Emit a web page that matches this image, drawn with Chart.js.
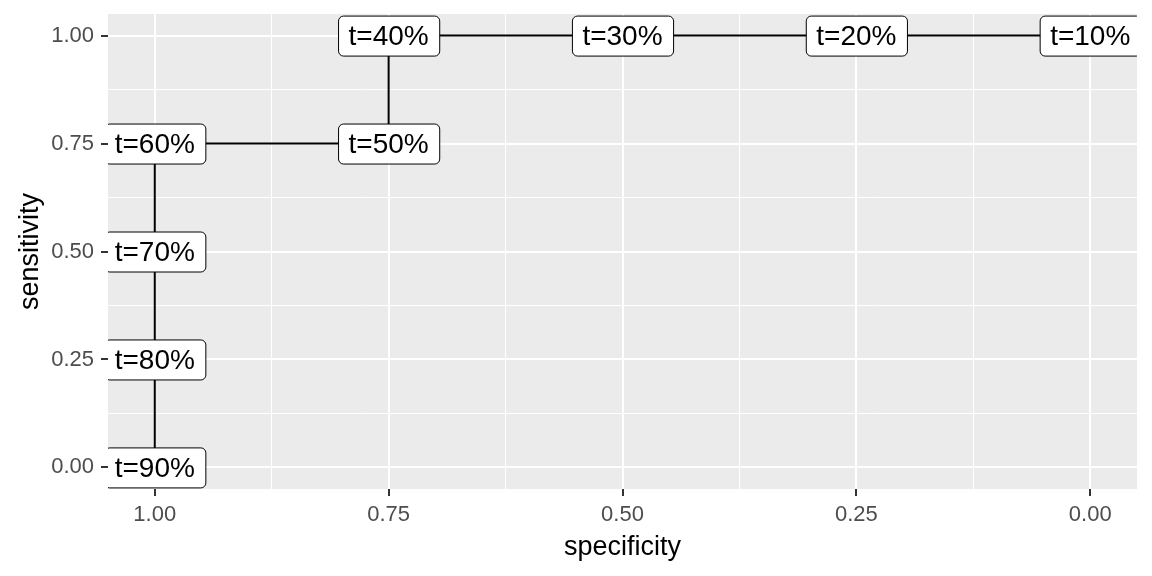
<!DOCTYPE html>
<html><head><meta charset="utf-8">
<script src="https://cdn.jsdelivr.net/npm/chart.js@4/dist/chart.umd.min.js"></script>
<style>html,body{margin:0;padding:0;background:#fff}</style>
</head><body>
<canvas id="c" width="1152" height="576"></canvas>
<script>
const specificity = [1, 1, 1, 1, 0.75, 0.75, 0.5, 0.25, 0];
const sensitivity = [0, 0.25, 0.5, 0.75, 0.75, 1, 1, 1, 1];
const thresholdLabels = ['t=90%', 't=80%', 't=70%', 't=60%', 't=50%', 't=40%', 't=30%', 't=20%', 't=10%'];
const majorTicks = [0, 0.25, 0.5, 0.75, 1];
const tickLabels = ['0.00', '0.25', '0.50', '0.75', '1.00'];
const gridValues = [0, 0.125, 0.25, 0.375, 0.5, 0.625, 0.75, 0.875, 1];

const FONT = "'Liberation Sans', Arial, sans-serif";
const isMajor = v => majorTicks.indexOf(v) >= 0;

const bgPlugin = {
  id: 'panelBg',
  beforeDraw(chart) {
    const {ctx, chartArea: a} = chart;
    ctx.save();
    ctx.fillStyle = '#EBEBEB';
    ctx.fillRect(a.left, a.top, a.right - a.left, a.bottom - a.top);
    ctx.restore();
  }
};

function roundRect(ctx, x, y, w, h, r) {
  ctx.beginPath();
  ctx.moveTo(x + r, y);
  ctx.lineTo(x + w - r, y);
  ctx.arcTo(x + w, y, x + w, y + r, r);
  ctx.lineTo(x + w, y + h - r);
  ctx.arcTo(x + w, y + h, x + w - r, y + h, r);
  ctx.lineTo(x + r, y + h);
  ctx.arcTo(x, y + h, x, y + h - r, r);
  ctx.lineTo(x, y + r);
  ctx.arcTo(x, y, x + r, y, r);
  ctx.closePath();
}

const labelPlugin = {
  id: 'pointLabels',
  afterDatasetsDraw(chart) {
    const {ctx, chartArea: a} = chart;
    const meta = chart.getDatasetMeta(0);
    ctx.save();
    ctx.beginPath();
    ctx.rect(a.left, a.top, a.right - a.left, a.bottom - a.top);
    ctx.clip();
    ctx.font = '28px ' + FONT;
    meta.data.forEach((pt, i) => {
      const txt = thresholdLabels[i];
      const tw = ctx.measureText(txt).width;
      const padX = 10.5;
      const w = tw + 2 * padX;
      const h = 40;
      const x = pt.x - w / 2;
      const y = pt.y - h / 2;
      roundRect(ctx, x + 0.5, y + 0.5, w, h, 5);
      ctx.fillStyle = '#FFFFFF';
      ctx.fill();
      ctx.lineWidth = 1;
      ctx.strokeStyle = '#000000';
      ctx.stroke();
      ctx.fillStyle = '#000000';
      ctx.textAlign = 'center';
      ctx.textBaseline = 'middle';
      ctx.fillText(txt, pt.x, pt.y + 2);
    });
    ctx.restore();
  }
};

const gridOpts = {
  color: '#FFFFFF',
  lineWidth: c => (c.tick && isMajor(c.tick.value)) ? 2 : 1,
  drawTicks: true,
  tickLength: 7,
  tickWidth: 2,
  tickColor: c => (c.tick && isMajor(c.tick.value)) ? '#333333' : 'rgba(0,0,0,0)'
};

const tickCb = v => { const i = majorTicks.indexOf(v); return i >= 0 ? tickLabels[i] : ''; };

new Chart(document.getElementById('c'), {
  type: 'scatter',
  data: {
    datasets: [{
      data: specificity.map((s, i) => ({x: s, y: sensitivity[i]})),
      showLine: true,
      borderColor: '#000000',
      borderWidth: 2,
      pointRadius: 0,
      pointHoverRadius: 0,
      fill: false,
      tension: 0
    }]
  },
  options: {
    responsive: false,
    devicePixelRatio: 1,
    animation: false,
    events: [],
    layout: {padding: {left: 0, right: 15, top: 14, bottom: 0}},
    plugins: {legend: {display: false}, tooltip: {enabled: false}},
    scales: {
      x: {
        type: 'linear',
        reverse: true,
        min: -0.05,
        max: 1.05,
        afterBuildTicks: s => { s.ticks = gridValues.map(v => ({value: v})); },
        afterFit: s => { s.height = 87; s.paddingLeft = 0; s.paddingRight = 0; },
        border: {display: false},
        grid: gridOpts,
        ticks: {autoSkip: false, maxRotation: 0, callback: tickCb, color: '#4D4D4D', font: {family: FONT, size: 22}, padding: 6},
        title: {display: true, text: 'specificity', color: '#000000', font: {family: FONT, size: 27}, padding: {top: 0, bottom: 12}}
      },
      y: {
        type: 'linear',
        min: -0.05,
        max: 1.05,
        afterBuildTicks: s => { s.ticks = gridValues.map(v => ({value: v})); },
        afterFit: s => { s.width = 108; s.paddingTop = 0; s.paddingBottom = 0; },
        border: {display: false},
        grid: gridOpts,
        ticks: {autoSkip: false, callback: tickCb, color: '#4D4D4D', font: {family: FONT, size: 22}, padding: 7},
        title: {display: true, text: 'sensitivity', color: '#000000', font: {family: FONT, size: 27}, padding: {top: 14, bottom: 0}}
      }
    }
  },
  plugins: [bgPlugin, labelPlugin]
});
</script>
</body></html>
